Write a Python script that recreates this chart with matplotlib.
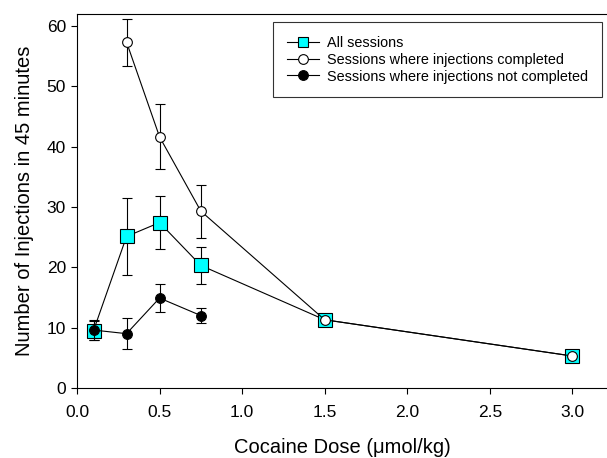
import matplotlib
matplotlib.use("Agg")
import matplotlib.pyplot as plt

plt.rcParams['font.family'] = ['Liberation Sans', 'DejaVu Sans']

# cocaine doses (umol/kg)
dose_all = [0.1, 0.3, 0.5, 0.75, 1.5, 3.0]
all_mean = [9.5, 25.1, 27.4, 20.3, 11.3, 5.3]
all_err = [1.6, 6.4, 4.4, 3.0, 0.0, 0.0]

dose_comp = [0.3, 0.5, 0.75, 1.5, 3.0]
comp_mean = [57.3, 41.6, 29.3, 11.3, 5.3]
comp_err = [3.9, 5.4, 4.4, 0.0, 0.0]

dose_notcomp = [0.1, 0.3, 0.5, 0.75]
notcomp_mean = [9.6, 9.0, 14.9, 12.0]
notcomp_err = [1.7, 2.6, 2.3, 1.2]

fig = plt.figure(figsize=(6.07, 4.58), dpi=100)
ax = fig.add_axes([77/607, 1 - 388/458, 1 - 77/607, (388 - 14.3)/458])

common = dict(color='black', lw=0.8, capsize=3.5, elinewidth=0.8, capthick=0.8)
ax.errorbar(dose_all, all_mean, yerr=all_err, marker='s', ms=9.5, mfc='#00ffff',
            mec='black', mew=0.8, label='All sessions', zorder=3, **common)
ax.errorbar(dose_comp, comp_mean, yerr=comp_err, marker='o', ms=7, mfc='white',
            mec='black', mew=0.8, label='Sessions where injections completed', zorder=4, **common)
ax.errorbar(dose_notcomp, notcomp_mean, yerr=notcomp_err, marker='o', ms=7, mfc='black',
            mec='black', mew=0.8, label='Sessions where injections not completed', zorder=5, **common)

ax.set_xlim(0, 3.21)
ax.set_ylim(0, 61.9)
ax.set_xticks([0, 0.5, 1.0, 1.5, 2.0, 2.5, 3.0])
ax.set_xticklabels(['0.0', '0.5', '1.0', '1.5', '2.0', '2.5', '3.0'])
ax.set_yticks(range(0, 61, 10))
ax.tick_params(direction='out', length=4, width=0.8, labelsize=12.5)
ax.tick_params(axis='x', pad=8)
ax.tick_params(axis='y', pad=4)
for s in ax.spines.values():
    s.set_linewidth(0.8)
ax.spines['right'].set_visible(False)

ax.set_xlabel('Cocaine Dose (\u03bcmol/kg)', fontsize=14.5, labelpad=13.5)
ax.set_ylabel('Number of Injections in 45 minutes', fontsize=14.5, labelpad=9)

handles, labels = ax.get_legend_handles_labels()
handles = [h[0] for h in handles]
leg = ax.legend(handles, labels, loc='upper left', bbox_to_anchor=(273/607, 1 - 22/458),
                bbox_transform=fig.transFigure, fontsize=10.4, frameon=True, fancybox=False,
                edgecolor='black', handlelength=2.25, handletextpad=0.55, labelspacing=0.2,
                borderpad=0.95, borderaxespad=0)
leg.get_frame().set_linewidth(0.8)
for h in leg.legend_handles:
    h.set_markersize(7)

fig.savefig('out.png', dpi=100)
